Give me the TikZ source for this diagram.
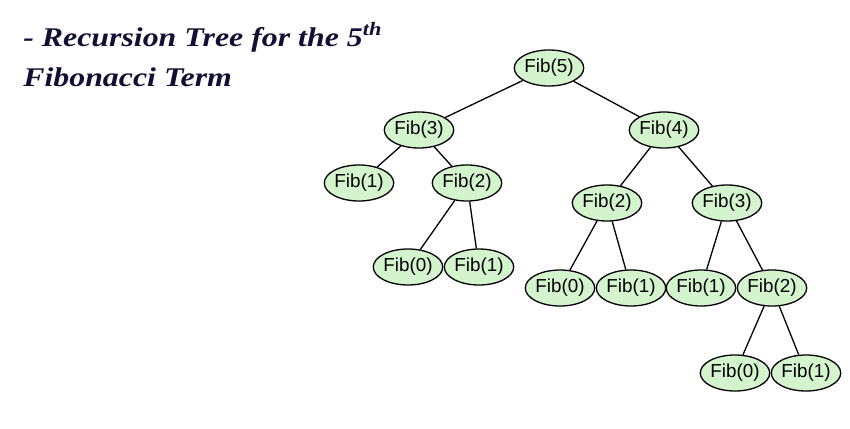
\documentclass[tikz,border=0pt]{standalone}
\usepackage{fontspec}
\setmainfont{Liberation Serif}
\newfontfamily\nodefont{Liberation Sans}
\usetikzlibrary{shapes.geometric}
\definecolor{fibgreen}{RGB}{212,244,206}
\definecolor{titlenavy}{RGB}{16,16,52}
\newcommand{\widetitle}[1]{\scalebox{1.18}[1]{#1}}
\tikzset{
    fibtree/.style={x=0.5pt, y=-0.5pt, line width=0.65pt},
    call/.style={draw, ellipse, fill=fibgreen, inner sep=0pt,
        minimum width=32pt, minimum height=18pt, font=\nodefont\fontsize{9.4}{10}\selectfont},
    title/.style={anchor=base west, align=left, text=titlenavy,
        font=\fontsize{13.5}{20}\selectfont\bfseries\itshape},
}

\begin{document}
\begin{tikzpicture}[fibtree]
    \useasboundingbox (0,0) rectangle (850,428);

    % heading
    \node[title] (head) at (16,86)
        {\widetitle{- Recursion Tree for the 5\textsuperscript{th}}\\\widetitle{Fibonacci Term}};

    % calls, level by level
    \node[call] (f5)   at (549,68)  {Fib(5)};
    \node[call] (f3a)  at (419,130) {Fib(3)};
    \node[call] (f4)   at (664,130) {Fib(4)};
    \node[call] (f1a)  at (359,183) {Fib(1)};
    \node[call] (f2a)  at (467,183) {Fib(2)};
    \node[call] (f2b)  at (607,203) {Fib(2)};
    \node[call] (f3b)  at (727,203) {Fib(3)};
    \node[call] (f0a)  at (408,267) {Fib(0)};
    \node[call] (f1b)  at (479,267) {Fib(1)};
    \node[call] (f0b)  at (560,288) {Fib(0)};
    \node[call] (f1c)  at (631,288) {Fib(1)};
    \node[call] (f1d)  at (701,288) {Fib(1)};
    \node[call] (f2c)  at (772,288) {Fib(2)};
    \node[call] (f0c)  at (735,373) {Fib(0)};
    \node[call] (f1e)  at (806,373) {Fib(1)};

    % recursive calls
    \draw (f5) -- (f3a);
    \draw (f5) -- (f4);
    \draw (f3a) -- (f1a);
    \draw (f3a) -- (f2a);
    \draw (f2a) -- (f0a);
    \draw (f2a) -- (f1b);
    \draw (f4) -- (f2b);
    \draw (f4) -- (f3b);
    \draw (f2b) -- (f0b);
    \draw (f2b) -- (f1c);
    \draw (f3b) -- (f1d);
    \draw (f3b) -- (f2c);
    \draw (f2c) -- (f0c);
    \draw (f2c) -- (f1e);
\end{tikzpicture}
\end{document}
